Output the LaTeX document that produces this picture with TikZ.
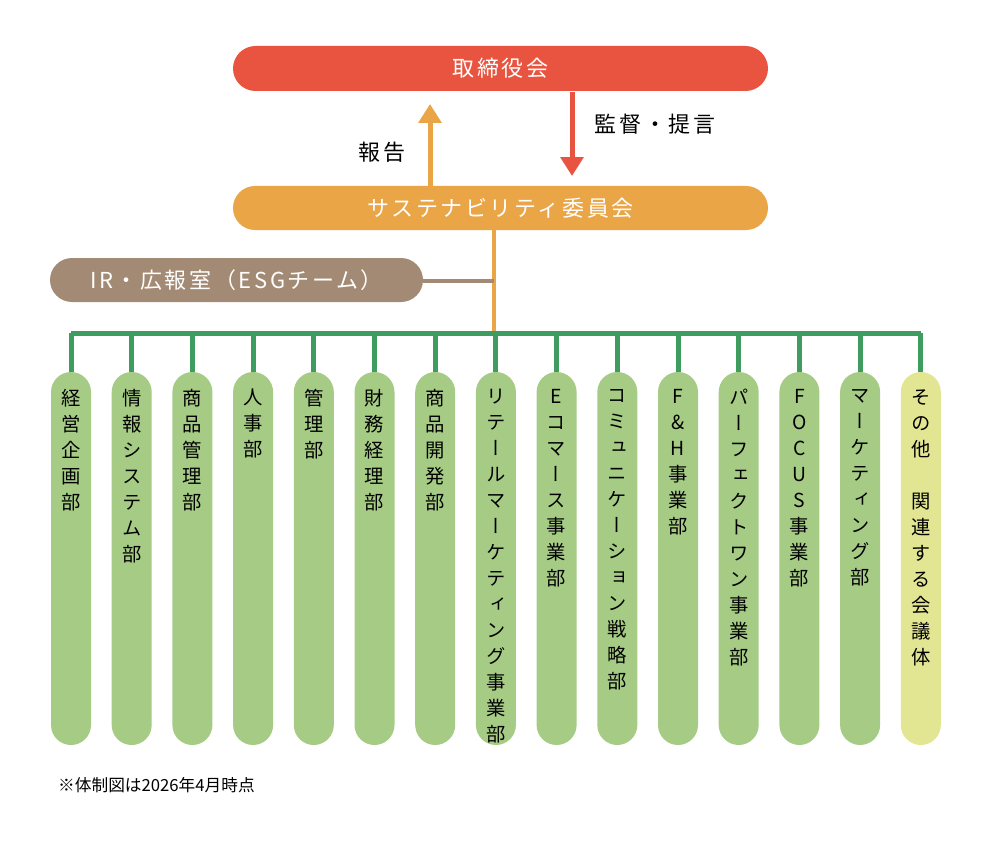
\documentclass[tikz,border=0pt]{standalone}
\usepackage{fontspec}
\setmainfont{Noto Sans CJK JP}
\newfontfamily\vjp[RawFeature=+vert]{Noto Sans CJK JP}
\usetikzlibrary{arrows.meta}
\definecolor{boardred}{HTML}{E8543F}
\definecolor{sustorange}{HTML}{E9A546}
\definecolor{irbrown}{HTML}{A38A74}
\definecolor{linegreen}{HTML}{3F9C5F}
\definecolor{deptgreen}{HTML}{A5CB85}
\definecolor{otheryellow}{HTML}{E2E591}
\makeatletter
\newcommand\vstack[1]{\@tfor\vch:=#1\do{\vch\\}}
\makeatother
\tikzset{
  pill/.style={text=white,
    font=\fontsize{12.5}{15}\selectfont\addfontfeature{LetterSpace=12}},
  vlabel/.style={anchor=north, align=center, inner sep=0pt,
    font=\vjp\fontsize{11}{14.8}\selectfont},
  bigarrow/.style={line width=0.1cm, -{Triangle[width=0.45cm,length=0.38cm]}}
}
\begin{document}
\begin{tikzpicture}[x=0.02cm,y=-0.02cm]
\useasboundingbox (0,0) rectangle (983,841);
% boxes
\fill[boardred, rounded corners=0.45cm] (233,46) rectangle (768,91);
\node[pill] (board) at (500.5,68.5) {取締役会};
\fill[sustorange, rounded corners=0.44cm] (233,186) rectangle (768,230);
\node[pill] (sust) at (500.5,208) {サステナビリティ委員会};
\fill[irbrown, rounded corners=0.44cm] (50,258) rectangle (423,302);
\node[pill] (ir) at (236.5,280) {IR・広報室（ESGチーム）};
% arrows
\coordinate (upS) at (430,186);
\coordinate (upE) at (430,104);
\coordinate (dnS) at (572,92);
\coordinate (dnE) at (572,176);
\draw[bigarrow, sustorange] (upS) -- (upE);
\draw[bigarrow, boardred] (dnS) -- (dnE);
\node[font=\fontsize{12.5}{15}\selectfont\addfontfeature{LetterSpace=12}] (rep) at (382,152) {報告};
\node[font=\fontsize{12.5}{15}\selectfont\addfontfeature{LetterSpace=12}] (sup) at (655,124) {監督・提言};
% lines
\coordinate (jn) at (494,281);
\coordinate (bar) at (494,333);
\draw[line width=0.08cm, sustorange] (494,230) -- (bar);
\draw[line width=0.08cm, irbrown] (423,281) -- (jn);
\draw[line width=0.1cm, linegreen] (71,333) -- (921,333);
% departments
\foreach \i/\t in {0/経営企画部,1/情報システム部,2/商品管理部,3/人事部,4/管理部,
  5/財務経理部,6/商品開発部,7/リテールマーケティング事業部,8/Eコマース事業部,
  9/コミュニケーション戦略部,10/F\&H事業部,11/パーフェクトワン事業部,
  12/FOCUS事業部,13/マーケティング部,14/その他　関連する会議体}{
  \pgfmathsetmacro\cx{71+60.7*\i}
  \ifnum\i=14 \def\fc{otheryellow}\else\def\fc{deptgreen}\fi
  \fill[fill=\fc, rounded corners=0.4cm] (\cx-20,372) rectangle (\cx+20,745);
  \draw[line width=0.1cm, linegreen] (\cx,333) -- (\cx,372);
  \node[vlabel] (d\i) at (\cx,389) {\expandafter\vstack\expandafter{\t}};
}
\node[anchor=west, font=\fontsize{9.5}{12}\selectfont] (note) at (52,785) {※体制図は2026年4月時点};
\end{tikzpicture}
\end{document}
